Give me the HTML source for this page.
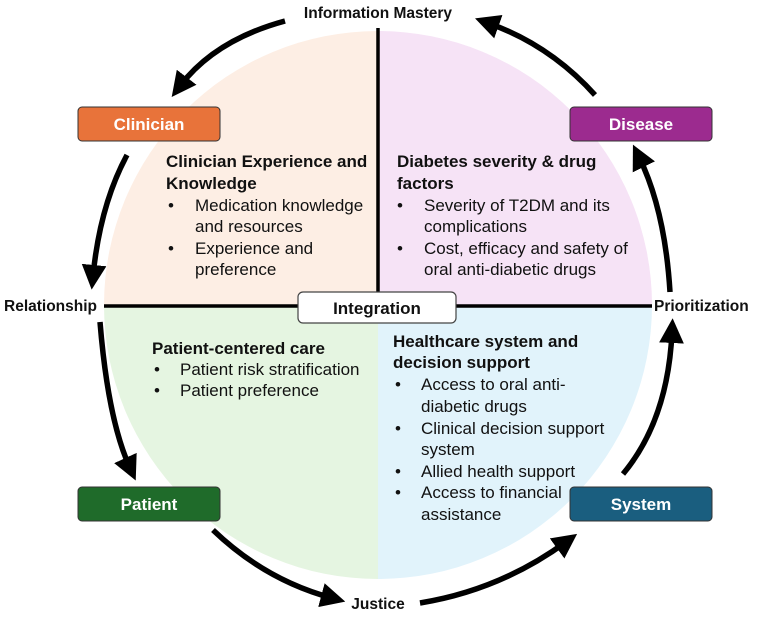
<!DOCTYPE html>
<html><head><meta charset="utf-8"><style>
body{margin:0;background:#fff;}
svg{display:block;font-family:"Liberation Sans",Arial,sans-serif;}
.h{font-weight:bold;font-size:17px;fill:#111;}
.b{font-size:17px;fill:#111;}
.lab{font-weight:bold;font-size:15.5px;fill:#111;}
.bx{font-weight:bold;font-size:17px;fill:#fff;}
</style></head><body>
<svg width="762" height="618" viewBox="0 0 762 618">
<defs>
<clipPath id="c"><circle cx="378" cy="305" r="274"/></clipPath>
<marker id="a" markerWidth="4.5" markerHeight="4.5" refX="2" refY="2.25" orient="auto" markerUnits="strokeWidth"><path d="M0,0 L4.5,2.25 L0,4.5 z" fill="#000"/></marker>
</defs>
<g clip-path="url(#c)">
<rect x="100" y="25" width="278" height="281" fill="#fdeee4"/>
<rect x="378" y="25" width="280" height="281" fill="#f6e3f6"/>
<rect x="100" y="306" width="278" height="280" fill="#e5f5e1"/>
<rect x="378" y="306" width="280" height="280" fill="#e1f3fb"/>
</g>
<line x1="378" y1="28" x2="378" y2="295" stroke="#000" stroke-width="3.5"/>
<line x1="104" y1="306" x2="652" y2="306" stroke="#000" stroke-width="3.5"/>
<rect x="298" y="292" width="158" height="31" rx="5" fill="#fff" stroke="#444" stroke-width="1.2"/>
<text x="377" y="314" text-anchor="middle" class="h">Integration</text>

<g fill="none" stroke="#000" stroke-width="5.5" marker-end="url(#a)">
<path d="M285,21 Q215,40 180,86"/>
<path d="M127,155 Q100,205 93,276"/>
<path d="M100,322 Q108,420 130,468"/>
<path d="M213,530 Q265,580 332,598"/>
<path d="M420,603 Q500,590 566,542"/>
<path d="M623,474 Q668,420 672,332"/>
<path d="M670,292 Q665,210 639,157"/>
<path d="M595,95 Q550,45 488,23"/>
</g>

<text x="378" y="18" text-anchor="middle" class="lab">Information Mastery</text>
<text x="4" y="311" class="lab">Relationship</text>
<text x="654" y="311" class="lab">Prioritization</text>
<text x="378" y="609" text-anchor="middle" class="lab">Justice</text>

<rect x="78" y="107" width="142" height="34" rx="4" fill="#e8733a" stroke="#333"/>
<text x="149" y="130" text-anchor="middle" class="bx">Clinician</text>
<rect x="570" y="107" width="142" height="34" rx="4" fill="#9c2b8f" stroke="#333"/>
<text x="641" y="130" text-anchor="middle" class="bx">Disease</text>
<rect x="78" y="487" width="142" height="34" rx="4" fill="#1f6b2a" stroke="#333"/>
<text x="149" y="510" text-anchor="middle" class="bx">Patient</text>
<rect x="570" y="487" width="142" height="34" rx="4" fill="#1a5e7f" stroke="#333"/>
<text x="641" y="510" text-anchor="middle" class="bx">System</text>

<text class="h"><tspan x="166" y="167">Clinician Experience and</tspan><tspan x="166" y="189">Knowledge</tspan></text>
<text class="b"><tspan x="168" y="211">•</tspan><tspan x="195" y="211">Medication knowledge</tspan><tspan x="195" y="232">and resources</tspan><tspan x="168" y="254">•</tspan><tspan x="195" y="254">Experience and</tspan><tspan x="195" y="275">preference</tspan></text>

<text class="h"><tspan x="397" y="167">Diabetes severity &amp; drug</tspan><tspan x="397" y="189">factors</tspan></text>
<text class="b"><tspan x="397" y="211">•</tspan><tspan x="424" y="211">Severity of T2DM and its</tspan><tspan x="424" y="232">complications</tspan><tspan x="397" y="254">•</tspan><tspan x="424" y="254">Cost, efficacy and safety of</tspan><tspan x="424" y="275">oral anti-diabetic drugs</tspan></text>

<text class="h"><tspan x="152" y="354">Patient-centered care</tspan></text>
<text class="b"><tspan x="154" y="375">•</tspan><tspan x="180" y="375">Patient risk stratification</tspan><tspan x="154" y="396">•</tspan><tspan x="180" y="396">Patient preference</tspan></text>

<text class="h"><tspan x="393" y="347">Healthcare system and</tspan><tspan x="393" y="368">decision support</tspan></text>
<text class="b"><tspan x="395" y="390">•</tspan><tspan x="421" y="390">Access to oral anti-</tspan><tspan x="421" y="412">diabetic drugs</tspan><tspan x="395" y="434">•</tspan><tspan x="421" y="434">Clinical decision support</tspan><tspan x="421" y="455">system</tspan><tspan x="395" y="477">•</tspan><tspan x="421" y="477">Allied health support</tspan><tspan x="395" y="498">•</tspan><tspan x="421" y="498">Access to financial</tspan><tspan x="421" y="520">assistance</tspan></text>
</svg>
</body></html>
